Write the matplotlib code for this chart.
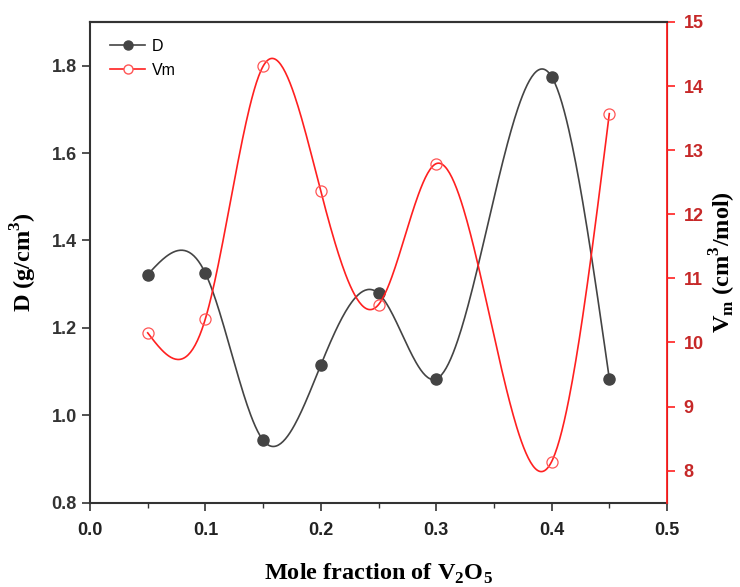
import numpy as np
import matplotlib
matplotlib.use('Agg')
import matplotlib.pyplot as plt
from matplotlib.ticker import MultipleLocator

x = [0.05, 0.10, 0.15, 0.20, 0.25, 0.30, 0.40, 0.45]
density = [1.322, 1.325, 0.943, 1.115, 1.279, 1.083, 1.775, 1.084]
molar_vol = [10.15, 10.37, 14.31, 12.36, 10.59, 12.79, 8.14, 13.57]


def natural_spline(xp, yp, n=400):
    # plain natural cubic spline, like Origin's "Spline" line connection
    xp = np.asarray(xp, float)
    yp = np.asarray(yp, float)
    k = len(xp)
    h = np.diff(xp)
    A = np.zeros((k, k))
    b = np.zeros(k)
    A[0, 0] = A[-1, -1] = 1
    for i in range(1, k - 1):
        A[i, i - 1] = h[i - 1]
        A[i, i] = 2 * (h[i - 1] + h[i])
        A[i, i + 1] = h[i]
        b[i] = 6 * ((yp[i + 1] - yp[i]) / h[i] - (yp[i] - yp[i - 1]) / h[i - 1])
    M = np.linalg.solve(A, b)
    xs = np.linspace(xp[0], xp[-1], n)
    idx = np.clip(np.searchsorted(xp, xs) - 1, 0, k - 2)
    x0, x1 = xp[idx], xp[idx + 1]
    hh = x1 - x0
    t1 = x1 - xs
    t0 = xs - x0
    ys = (M[idx] * t1**3 + M[idx + 1] * t0**3) / (6 * hh) \
        + (yp[idx] / hh - M[idx] * hh / 6) * t1 \
        + (yp[idx + 1] / hh - M[idx + 1] * hh / 6) * t0
    return xs, ys


gray = '#444444'
red = '#ff2020'
tick_red = '#c62828'

fig = plt.figure(figsize=(7.4, 5.87), dpi=100)
ax = fig.add_axes([90 / 740, 1 - 502.7 / 587, 577 / 740, 480.7 / 587])
ax2 = ax.twinx()

xs, ys = natural_spline(x, density)
ax.plot(xs, ys, color=gray, lw=1.2)
ax.plot(x, density, 'o', color=gray, ms=8)
ax.plot([], [], '-o', color=gray, ms=6.5, lw=1.2, label='D')

xs2, ys2 = natural_spline(x, molar_vol)
ax2.plot(xs2, ys2, color=red, lw=1.2)
ax2.plot(x, molar_vol, 'o', mfc='none', mec='#ff5555', ms=8, mew=0.9)
ax.plot([], [], '-o', color=red, mfc='white', mec='#ff5555', ms=6.5, lw=1.2, label='Vm')

ax.xaxis.set_major_locator(MultipleLocator(0.1))
ax.xaxis.set_minor_locator(MultipleLocator(0.05))
ax.yaxis.set_major_locator(MultipleLocator(0.2))
ax2.yaxis.set_major_locator(MultipleLocator(1))

tick_font = dict(family='Liberation Sans', weight='bold', size=13)
ax.set_xticks(ax.get_xticks())
ax.set_xticklabels(['%.1f' % v for v in ax.get_xticks()], fontdict=tick_font, color='#222222')
ax.set_yticks(ax.get_yticks())
ax.set_yticklabels(['%.1f' % v for v in ax.get_yticks()], fontdict=tick_font, color='#333333')
ax2.set_yticks(ax2.get_yticks())
ax2.set_yticklabels(['%d' % v for v in ax2.get_yticks()], fontdict=tick_font, color=tick_red)
ax.set_xlim(0, 0.5)
ax.set_ylim(0.8, 1.9)
ax2.set_ylim(7.5, 15)

ax.tick_params(axis='both', which='major', direction='out', length=6, width=1.2, color='#333333')
ax.tick_params(axis='x', which='minor', direction='out', length=3.5, width=1.0, color='#333333')
ax.tick_params(axis='x', pad=8)
ax2.tick_params(axis='y', direction='out', length=6, width=1.2, color=red, pad=6)

for s in ['left', 'bottom', 'top']:
    ax.spines[s].set_color('#333333')
    ax.spines[s].set_linewidth(1.5)
ax2.spines['right'].set_color(red)
ax2.spines['right'].set_linewidth(1.3)
ax2.spines['left'].set_visible(False)
ax2.spines['top'].set_color('#333333')
ax2.spines['top'].set_linewidth(1.5)
ax2.spines['bottom'].set_visible(False)

label_font = dict(family='Liberation Serif', weight='bold', size=17.5)
ax.set_xlabel(r'Mole fraction of V$_\mathregular{2}$O$_\mathregular{5}$', fontdict=label_font, labelpad=16)
ax.set_ylabel(r'D (g/cm$^\mathregular{3}$)', fontdict=label_font, labelpad=9)
ax2.set_ylabel(r'V$_\mathregular{m}$ (cm$^\mathregular{3}$/mol)', fontdict=label_font, labelpad=3)

leg = ax.legend(loc='upper left', frameon=False, prop=dict(family='Liberation Sans', size=11.5),
                handlelength=2.2, handletextpad=0.4, labelspacing=0.55,
                bbox_to_anchor=(0.01, 0.995))

fig.savefig('out.png', dpi=100)
